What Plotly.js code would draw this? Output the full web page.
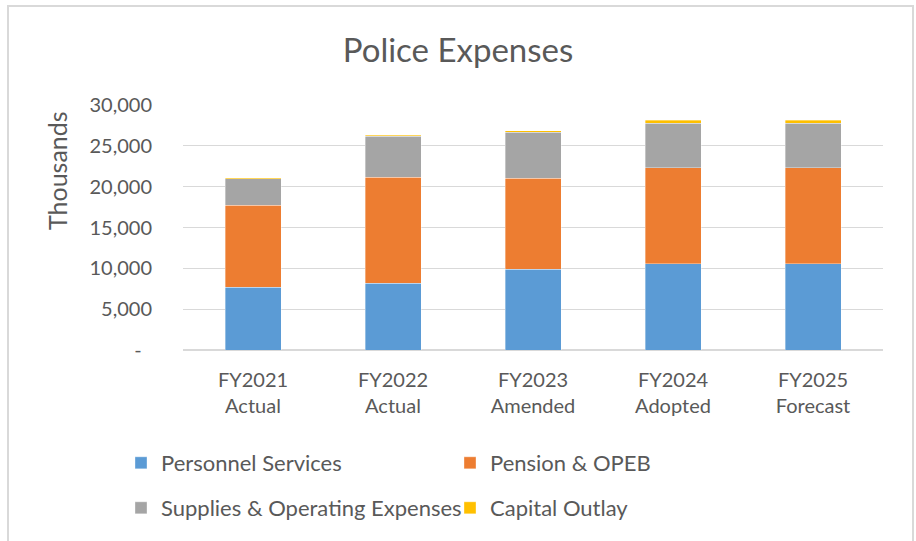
<!DOCTYPE html>
<html><head><meta charset="utf-8">
<script src="https://cdn.plot.ly/plotly-3.0.1.min.js"></script>
<style>
html,body{margin:0;padding:0;background:#fff;}
#frame{position:absolute;left:7px;top:5px;width:907px;height:540px;border:2px solid #d9d9d9;border-bottom:none;box-sizing:border-box;}
#chart{position:absolute;left:0;top:0;width:916px;height:541px;}
</style></head>
<body>
<div id="frame"></div>
<div id="chart"></div>
<script>
const categories = ["FY2021<br>Actual","FY2022<br>Actual","FY2023<br>Amended","FY2024<br>Adopted","FY2025<br>Forecast"];
const personnel = [7700, 8190, 9910, 10560, 10560];
const pension = [10020, 12970, 11130, 11750, 11750];
const supplies = [3280, 5030, 5650, 5480, 5480];
const capital = [70, 90, 160, 330, 330];
const yTickVals = [0, 5000, 10000, 15000, 20000, 25000, 30000];
const yTickText = ["-\u00a0\u00a0", "5,000", "10,000", "15,000", "20,000", "25,000", "30,000"];

const names = ["Personnel Services", "Pension & OPEB", "Supplies & Operating Expenses", "Capital Outlay"];
const colors = ["#5B9BD5", "#ED7D31", "#A5A5A5", "#FFC000"];
const legendOf = ["legend", "legend", "legend2", "legend2"];
const series = [personnel, pension, supplies, capital];

const data = series.map((s, i) => ({
  type: "bar", x: categories, y: s, name: names[i], legend: legendOf[i],
  marker: {color: colors[i], line: {color: "rgba(255,255,255,0.5)", width: 0.7}},
  width: 0.4, hoverinfo: "skip"
}));

const FONT = "Lato, 'Open Sans', sans-serif";
const legendBase = {orientation: "h", xanchor: "left", yanchor: "top",
  entrywidth: 284, entrywidthmode: "pixels", traceorder: "normal",
  font: {size: 22, color: "#595959", family: FONT}, itemwidth: 30, bgcolor: "rgba(0,0,0,0)"};

const layout = {
  width: 916, height: 541,
  paper_bgcolor: "rgba(0,0,0,0)", plot_bgcolor: "#fff",
  barmode: "stack",
  margin: {l: 183, r: 33, t: 105, b: 191, autoexpand: false},
  font: {family: FONT, color: "#595959", size: 18},
  title: {text: "Police Expenses", x: 0.5, xanchor: "center", y: 0.907, yanchor: "middle",
    font: {size: 33, color: "#595959", family: FONT}},
  xaxis: {tickfont: {size: 20, color: "#595959"}, showgrid: false, showline: false, ticks: "",
    ticklabelstandoff: 16, automargin: false},
  yaxis: {range: [0, 30000], tickvals: yTickVals, ticktext: yTickText,
    tickfont: {size: 20, color: "#595959"}, gridcolor: "#d9d9d9", gridwidth: 1.3,
    zeroline: true, zerolinecolor: "#d9d9d9", zerolinewidth: 1.3, showline: false, ticks: "",
    ticklabelstandoff: 30, automargin: false},
  annotations: [{text: "Thousands", xref: "paper", yref: "paper",
    x: (57 - 183) / 700, y: (350 - 171) / 245, xanchor: "center", yanchor: "middle",
    textangle: -90, showarrow: false, font: {size: 25, color: "#595959", family: FONT}}],
  legend: Object.assign({}, legendBase, {x: (121 - 183) / 700, y: (350 - 442) / 245}),
  legend2: Object.assign({}, legendBase, {x: (121 - 183) / 700, y: (350 - 487) / 245}),
  showlegend: true
};
Plotly.newPlot("chart", data, layout, {displayModeBar: false, staticPlot: true});
</script>
</body></html>
